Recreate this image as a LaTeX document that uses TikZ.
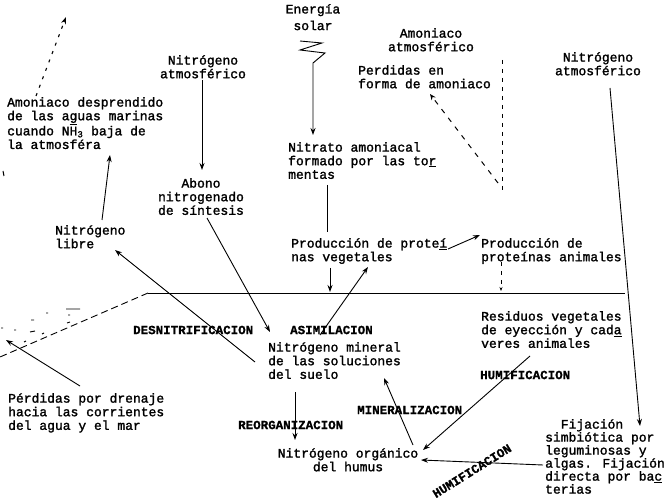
\documentclass[tikz,border=0pt]{standalone}
\usepackage{fontspec}
\newfontfamily\tmain{Liberation Mono}[FakeBold=1.6]
\newfontfamily\tlab{Liberation Mono}[UprightFont={* Bold},FakeBold=0.8]
\usetikzlibrary{arrows.meta}
\begin{document}
\begin{tikzpicture}[x=1pt,y=-1pt,
  txt/.style={font=\tmain\fontsize{13}{13.6}\selectfont, inner sep=0pt, align=left, anchor=north west},
  txtc/.style={txt, align=center, anchor=north},
  lbl/.style={font=\tlab\fontsize{12.5}{13}\selectfont, inner sep=0pt, anchor=west},
  arr/.style={-{Stealth[length=7pt,width=5pt]}, line width=0.9pt},
  ln/.style={line width=0.9pt},
  dsh/.style={line width=1.1pt, dash pattern=on 3pt off 6pt},
  dsh2/.style={line width=1pt, dash pattern=on 5pt off 6pt},
]
\useasboundingbox[fill=white] (0,0) rectangle (665,500);

% texts
\node[txtc] (energia) at (313,4) {Energía\\[3pt]solar};
\node[txtc] (natmL) at (203,55) {Nitrógeno\\atmosférico};
\node[txtc] (abono) at (201,178) {Abono\\nitrogenado\\de síntesis};
\node[txt] (amonmar) at (7,97) {Amoniaco desprendido\\de las a\underline{g}uas marinas\\cuando NH\textsubscript{3} baja de\\la atmosféra};
\node[txt] (libre) at (55,225) {Nitrógeno\\libre};
\node[txt] (nitrato) at (288,142) {Nitrato amoniacal\\formado por las to\underline{r}\\mentas};
\node[txt] (perdidas) at (358,65) {Perdidas en\\forma de amoniaco};
\node[txtc] (amonatm) at (431,28) {Amoniaco\\atmosférico};
\node[txtc] (natmR) at (598,52) {Nitrógeno\\atmosférico};
\node[txt] (protveg) at (291,238) {Producción de prote\underline{í}\\nas vegetales};
\node[txt] (protani) at (481,238) {Producción de\\proteínas animales};
\node[txt] (residuos) at (481,311) {Residuos vegetales\\de eyección y cad\underline{a}\\veres animales};
\node[txt] (mineral) at (268,342) {Nitrógeno mineral\\de las soluciones\\del suelo};
\node[txtc] (organico) at (348,448) {Nitrógeno orgánico\\del humus};
\node[txt, font=\tmain\fontsize{13}{13}\selectfont] (fijacion) at (545,419) {\hspace*{15.6pt}Fijación\\simbiótica por\\leguminosas y\\algas. Fijación\\directa por ba\underline{c}\\terias};
\node[txt] (drenaje) at (8,393) {Pérdidas por drenaje\\hacia las corrientes\\del agua y el mar};

% process labels
\node[lbl] (desn) at (133,330) {DESNITRIFICACION};
\node[lbl] (asim) at (290,330) {ASIMILACION};
\node[lbl] (reorg) at (238,425) {REORGANIZACION};
\node[lbl] (miner) at (357,410) {MINERALIZACION};
\node[lbl] (humi1) at (480,375) {HUMIFICACION};
\node[lbl, anchor=center, rotate=32] (humi2) at (472,471) {HUMIFICACION};

% coordinates
\coordinate (zz) at (313,63);
\coordinate (nitratoTop) at (313,135);
\coordinate (natmLb) at (202,80);
\coordinate (abonoT) at (202,170);
\coordinate (libreT) at (102,220);
\coordinate (amonB) at (110,155);
\coordinate (upB) at (36,96);
\coordinate (upA) at (66,17);
\coordinate (perdS) at (498,183);
\coordinate (perdE) at (430,94);
\coordinate (amV1) at (502,60);
\coordinate (amV2) at (502,192);
\coordinate (paV1) at (501,262);
\coordinate (paV2) at (501,291);
\coordinate (pvE) at (448,249);
\coordinate (paW) at (480,235);
\coordinate (ment1) at (327,185);
\coordinate (ment2) at (327,232);
\coordinate (pvB) at (330,268);
\coordinate (gnd) at (330,292);
\coordinate (minT) at (320,335);
\coordinate (pvT) at (368,267);
\coordinate (sint) at (207,218);
\coordinate (asimW) at (270,332);
\coordinate (minW) at (255,362);
\coordinate (libreE) at (115,250);
\coordinate (drS) at (80,386);
\coordinate (drE) at (6,340);
\coordinate (g0) at (0,357);
\coordinate (g1) at (148,293);
\coordinate (g2) at (625,293);
\coordinate (reo1) at (295,392);
\coordinate (reo2) at (295,440);
\coordinate (orgNE) at (413,445);
\coordinate (minSE) at (384,378);
\coordinate (resSW) at (530,356);
\coordinate (orgE) at (423,450);
\coordinate (fijW) at (543,465);
\coordinate (orgE2) at (421,460);
\coordinate (natmRb) at (610,88);
\coordinate (fijNE) at (640,426);

% connectors
\draw[arr] (300,41) -- (322,43) -- (300,50) -- (325,53) -- (zz) -- (nitratoTop);
\draw[arr] (natmLb) -- (abonoT);
\draw[arr] (libreT) -- (amonB);
\draw[dsh,-{Stealth[length=7pt,width=5pt]}] (upB) -- (upA);
\draw[line width=1pt] (3,171) -- (4,176);
\draw[dsh2,-{Stealth[length=6pt,width=5pt]}] (perdS) -- (perdE);
\draw[line width=1pt, dash pattern=on 4pt off 5pt] (amV1) -- (amV2);
\draw[line width=1pt, dash pattern=on 4pt off 5pt,-{Stealth[length=4pt,width=3pt]}] (paV1) -- (paV2);
\draw[arr] (pvE) -- (paW);
\draw[ln] (ment1) -- (ment2);
\draw[arr] (pvB) -- (gnd);
\draw[arr] (minT) -- (pvT);
\draw[arr] (sint) -- (asimW);
\draw[arr] (minW) -- (libreE);
\draw[arr] (drS) -- (drE);
\draw[ln] (g1) -- (g2);
\draw[ln, dash pattern=on 7pt off 4pt] (g1) -- (g0);
\draw[line width=0.9pt] (66,309)--(80,309) (68,315)--(70,315) (46,313)--(48,313) (31,320)--(34,320)
  (30,332)--(35,331) (14,330)--(16,330) (1,328)--(3,328) (42,334)--(44,333) (24,342)--(26,341) (67,323)--(70,322);
\draw[arr] (reo1) -- (reo2);
\draw[arr] (orgNE) -- (minSE);
\draw[arr] (resSW) -- (orgE);
\draw[arr] (fijW) -- (orgE2);
\draw[arr] (natmRb) -- (fijNE);
\end{tikzpicture}
\end{document}
